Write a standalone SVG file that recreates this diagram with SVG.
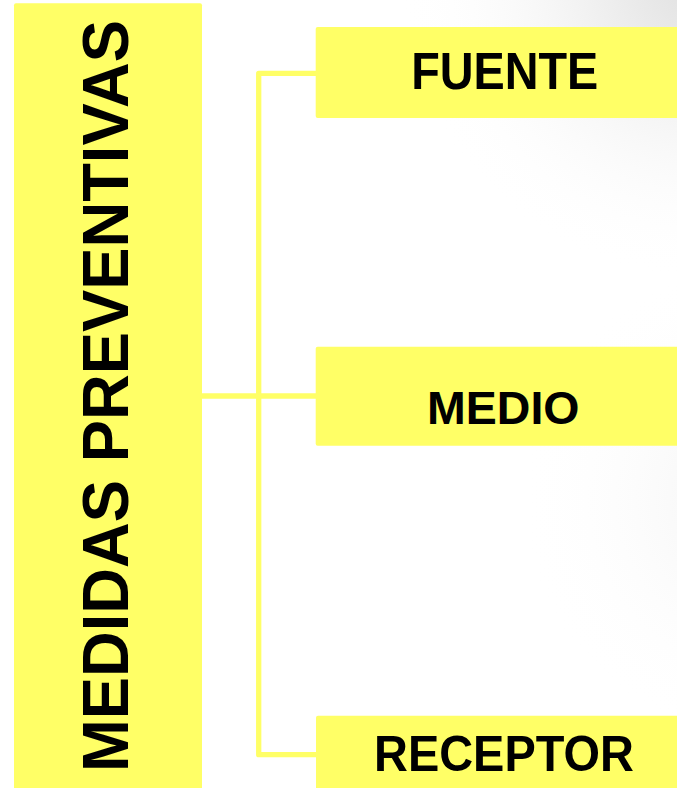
<svg xmlns="http://www.w3.org/2000/svg" width="677" height="788" viewBox="0 0 677 788">
  <defs>
    <radialGradient id="bg" gradientUnits="userSpaceOnUse" cx="700" cy="-20" r="300">
      <stop offset="0" stop-color="#e0e0e0"/>
      <stop offset="0.4" stop-color="#f2f2f2"/>
      <stop offset="1" stop-color="#ffffff" stop-opacity="0"/>
    </radialGradient>
    <radialGradient id="bg2" gradientUnits="userSpaceOnUse" cx="760" cy="500" r="240">
      <stop offset="0" stop-color="#f2f2f2"/>
      <stop offset="1" stop-color="#ffffff" stop-opacity="0"/>
    </radialGradient>
  </defs>
  <style>
    .box { fill: #ffff66; }
    .lbl { font-family: "Liberation Sans", Arial, sans-serif; font-weight: bold; fill: #000; text-anchor: middle; }
    .conn { fill: none; stroke: #ffff66; stroke-width: 5.3; stroke-linejoin: round; }
  </style>
  <rect x="0" y="0" width="677" height="788" fill="#ffffff"/>
  <rect x="0" y="0" width="677" height="788" fill="url(#bg2)"/>
  <rect x="0" y="0" width="677" height="788" fill="url(#bg)"/>

  <g id="connectors">
    <path class="conn" d="M316 73.4 H258.7 V754.7 H316"/>
    <path class="conn" d="M202 396 H316"/>
  </g>

  <g id="medidas">
    <rect class="box" x="14" y="3.3" width="188" height="790" rx="2"/>
    <text class="lbl" font-size="65" transform="translate(128.3 396) rotate(-90)" textLength="752" lengthAdjust="spacingAndGlyphs">MEDIDAS PREVENTIVAS</text>
  </g>

  <g id="fuente">
    <rect class="box" x="315.7" y="27" width="380" height="91" rx="2"/>
    <text class="lbl" x="504.7" y="89.3" font-size="51.5" textLength="187" lengthAdjust="spacingAndGlyphs">FUENTE</text>
  </g>

  <g id="medio">
    <rect class="box" x="315.7" y="346.7" width="380" height="99" rx="2"/>
    <text class="lbl" x="503.3" y="424.3" font-size="46.5">MEDIO</text>
  </g>

  <g id="receptor">
    <rect class="box" x="316" y="715.7" width="380" height="90" rx="2"/>
    <text class="lbl" x="504" y="770.7" font-size="50.7" textLength="260" lengthAdjust="spacingAndGlyphs">RECEPTOR</text>
  </g>
</svg>
